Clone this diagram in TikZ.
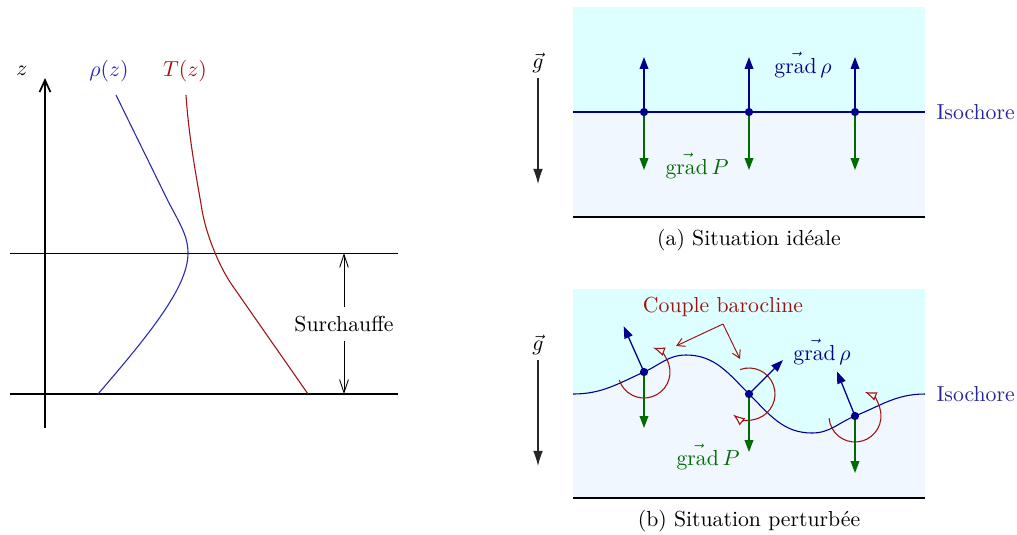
\documentclass[tikz,border=0pt]{standalone}
\usepackage{fontspec}
\usetikzlibrary{arrows.meta}
\definecolor{rhoblue}{rgb}{0.16,0.16,0.7}
\definecolor{tred}{rgb}{0.62,0.08,0.08}
\definecolor{navyb}{rgb}{0,0,0.55}
\definecolor{isoblue}{rgb}{0.15,0.15,0.6}
\definecolor{dgreen}{rgb}{0,0.42,0}
\definecolor{bgcyan}{rgb}{0.87,1,1}
\definecolor{bglight}{rgb}{0.94,0.97,1}
\begin{document}
\begin{tikzpicture}[x=0.46pt,y=0.46pt,
  gradrho/.style={navyb,line width=0.6pt,-{Triangle[length=5.5pt,width=4pt]}},
  gradp/.style={dgreen,line width=0.6pt,-{Triangle[length=5.5pt,width=4pt]}},
  torque/.style={tred,line width=0.5pt,-{Latex[length=5.5pt,width=4.2pt,fill=white]}},
  gvec/.style={black!85,line width=0.5pt,-{Latex[length=7pt,width=4.5pt]}},
  barb/.style={line width=0.4pt,-{Straight Barb[length=6pt,width=4pt]}},
  dot/.style={circle,fill=navyb,inner sep=0pt,minimum size=3.8pt},
  lab/.style={inner sep=1pt}]
\useasboundingbox (0,0) rectangle (1017,-534);

% ---------------- left panel ----------------
\coordinate (axb) at (45,-428);
\coordinate (axt) at (45,-78);
\draw[line width=0.8pt,-{Straight Barb[length=5.5pt,width=5pt]}] (axb) -- (axt);
\coordinate (h1l) at (10,-253); \coordinate (h1r) at (398,-253);
\coordinate (h0l) at (10,-394); \coordinate (h0r) at (398,-394);
\draw[line width=0.45pt] (h1l) -- (h1r);
\draw[line width=0.8pt] (h0l) -- (h0r);
\node[lab] (zlab) at (22,-71) {$z$};
\node[lab,text=rhoblue] (rholab) at (109,-71) {$\rho(z)$};
\node[lab,text=tred] (tlab) at (185,-71) {$T(z)$};
\draw[rhoblue,line width=0.5pt] (116,-95) -- (168,-201)
  .. controls (180,-224) and (188,-236) .. (188,-253)
  .. controls (188,-285) and (155,-328) .. (98,-394);
\draw[tred,line width=0.5pt] (186,-95) .. controls (189,-140) and (197,-180) .. (202,-210)
  .. controls (205.5,-231) and (217,-263) .. (232,-285) -- (308,-394);
\node[inner xsep=1pt,inner ysep=4pt] (sur) at (344,-324) {Surchauffe};
\coordinate (s1) at (344,-253);
\coordinate (s0) at (344,-394);
\draw[barb] (sur) -- (s1);
\draw[barb] (sur) -- (s0);

% ---------------- panel (a) ----------------
\fill[bgcyan] (573,-7) rectangle (925,-112);
\fill[bglight] (573,-112) rectangle (925,-217);
\draw[line width=0.8pt] (573,-217) -- (925,-217);
\coordinate (ial) at (573,-112);
\coordinate (iar) at (925,-112);
\draw[navyb,line width=0.5pt] (ial) -- (iar);
\node[lab,text=isoblue,anchor=west] (isoa) at (934,-112) {Isochore};
\foreach \i/\x in {1/644,2/749,3/855}{
  \coordinate (a\i) at (\x,-112);
  \coordinate (au\i) at (\x,-57);
  \coordinate (ad\i) at (\x,-170);
  \draw[gradrho] (a\i) -- (au\i);
  \draw[gradp] (a\i) -- (ad\i);
  \node[dot] (pa\i) at (a\i) {};
}
\node[lab,text=navyb] (gra) at (803,-65) {$\vec{\mathrm{grad}}\,\rho$};
\node[lab,text=dgreen] (gpa) at (697,-166) {$\vec{\mathrm{grad}}\,P$};
\node[lab] (ga) at (538,-63) {$\vec g$};
\coordinate (gat) at (538,-78);
\coordinate (gab) at (538,-184);
\draw[gvec] (gat) -- (gab);
\node (capa) at (749,-240) {(a) Situation idéale};

% ---------------- panel (b) ----------------
\coordinate (q1) at (644,-372);
\coordinate (q2) at (749,-394);
\coordinate (q3) at (855,-416);
\fill[bgcyan] (573,-289) rectangle (925,-498);
\fill[bglight] (573,-394) to[out=0,in=204] (q1) to[out=24,in=180] (686,-355)
  to[out=0,in=135] (q2) to[out=-45,in=180] (812,-433) to[out=0,in=202] (q3)
  to[out=22,in=180] (925,-394) -- (925,-498) -- (573,-498) -- cycle;
\draw[line width=0.8pt] (573,-498) -- (925,-498);
\draw[navyb,line width=0.5pt] (573,-394) to[out=0,in=204] (q1) to[out=24,in=180] (686,-355)
  to[out=0,in=135] (q2) to[out=-45,in=180] (812,-433) to[out=0,in=202] (q3)
  to[out=22,in=180] (925,-394);
\node[lab,text=isoblue,anchor=west] (isob) at (934,-394) {Isochore};

\draw[torque] (q1) ++(198:26) arc[start angle=198,end angle=430,radius=26];
\draw[torque] (q2) ++(110:26) arc[start angle=110,end angle=-128,radius=26];
\draw[torque] (q3) ++(185:26) arc[start angle=185,end angle=428,radius=26];

\path (q1) ++(114:50) coordinate (bu1);
\path (q2) ++(45:48) coordinate (bu2);
\path (q3) ++(112:48) coordinate (bu3);
\coordinate (bd1) at (644,-428);
\coordinate (bd2) at (749,-452);
\coordinate (bd3) at (855,-473);
\foreach \i in {1,2,3}{
  \draw[gradrho] (q\i) -- (bu\i);
  \draw[gradp] (q\i) -- (bd\i);
  \node[dot] (pb\i) at (q\i) {};
}
\node[lab,text=navyb] (grb) at (822,-352) {$\vec{\mathrm{grad}}\,\rho$};
\node[lab,text=dgreen] (gpb) at (708,-457) {$\vec{\mathrm{grad}}\,P$};

\node[lab,text=tred] (cb) at (723,-307) {Couple barocline};
\coordinate (cbf) at (723,-324);
\coordinate (cbl) at (676,-346);
\coordinate (cbr) at (740,-359);
\draw[tred,line width=0.45pt,-{Straight Barb[length=3.5pt,width=4pt]}] (cbf) -- (cbl);
\draw[tred,line width=0.45pt,-{Straight Barb[length=3.5pt,width=4pt]}] (cbf) -- (cbr);

\node[lab] (gb) at (538,-345) {$\vec g$};
\coordinate (gbt) at (538,-360);
\coordinate (gbb) at (538,-466);
\draw[gvec] (gbt) -- (gbb);
\node (capb) at (749,-521) {(b) Situation perturbée};
\end{tikzpicture}
\end{document}
